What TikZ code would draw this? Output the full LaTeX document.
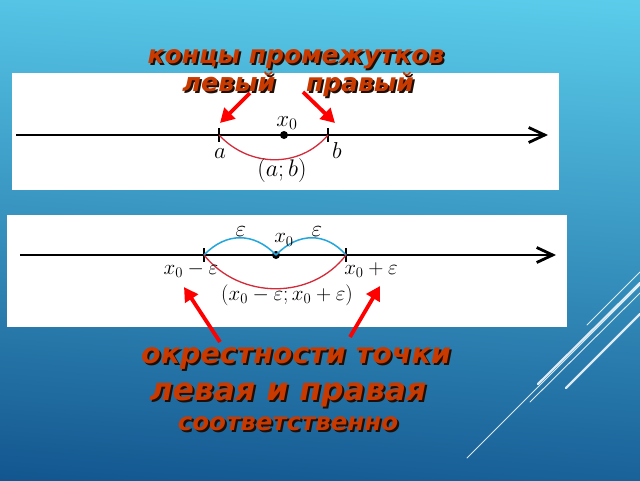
\RequirePackage{fix-cm}
\documentclass[tikz,border=0pt]{standalone}
\usepackage{fontspec}
\setmainfont{DejaVu Sans}
\usetikzlibrary{arrows.meta,shadings}
\definecolor{titlec}{HTML}{C93A00}
\definecolor{shadowc}{HTML}{1E0E06}
\definecolor{bgtop}{HTML}{5BCDEB}
\definecolor{bgmid}{HTML}{3190C2}
\definecolor{bgbot}{HTML}{13568F}
\definecolor{arcred}{HTML}{D42A3A}
\definecolor{arcblue}{HTML}{22A6DC}
\newcommand{\shd}[1]{\makebox[0pt][l]{\hspace*{2pt}\raisebox{-2pt}{\textcolor{shadowc}{#1}}}#1}
\tikzset{
  axisline/.style={line width=2.8pt,-{Straight Barb[length=16pt,width=15pt]}},
  tickl/.style={line width=2.4pt},
  dotn/.style={circle,fill=black,inner sep=0pt,minimum size=8pt},
  redarc/.style={arcred,line width=1.3pt},
  bluearc/.style={arcblue,line width=1.5pt},
  bigarr/.style={red,line width=3.8pt,-{Triangle[length=14pt,width=15pt]}},
  mlab/.style={inner sep=0pt,font=\fontsize{21}{24}\selectfont},
  ttl/.style={inner sep=0pt,anchor=base,text=titlec,font=\bfseries\itshape\fontsize{25}{28}\selectfont},
  deco/.style={white,opacity=0.85,line cap=round}
}
\begin{document}
\begin{tikzpicture}[x=1pt,y=-1pt]
\useasboundingbox (0,0) rectangle (640,480);
\shade[upper right=bgtop,upper left=bgtop!85!bgmid,lower left=bgbot,lower right=bgbot!80!bgmid] (0,0) rectangle (640,480);
% decorative lines
\draw[deco,line width=0.8pt] (467,458) -- (640,285);
\draw[deco,line width=0.9pt] (587,325) -- (640,272);
\draw[deco,line width=2.2pt] (538,384) -- (640,283);
\draw[deco,line width=0.9pt] (530,402) -- (640,293);
\draw[deco,line width=2.2pt] (566,388) -- (640,314);
% white panels
\fill[white] (12,73) rectangle (559,190);
\fill[white] (7,215) rectangle (567,327);
% ---------- diagram 1
\coordinate (s1) at (16,135);
\coordinate (e1) at (548,135);
\draw[axisline] (s1) -- (e1);
\coordinate (A) at (219,135);
\coordinate (B) at (328,135);
\draw[tickl] (219,128) -- (219,142);
\draw[tickl] (328,128) -- (328,142);
\node[dotn] (X1) at (284,135) {};
\draw[redarc] (A) .. controls (250,168) and (300,168) .. (B);
\node[mlab,font=\fontsize{23}{26}\selectfont] (lx1) at (287,123) {$x_0$};
\node[mlab,font=\fontsize{23}{26}\selectfont] (la) at (220,154) {$a$};
\node[mlab,font=\fontsize{23}{26}\selectfont] (lb) at (337,151) {$b$};
\node[mlab,font=\fontsize{24}{26}\selectfont] (lab) at (282,170) {$(a;b)$};
% ---------- diagram 2
\coordinate (s2) at (20,255);
\coordinate (e2) at (556,255);
\draw[axisline] (s2) -- (e2);
\coordinate (C) at (204,255);
\coordinate (D) at (346,255);
\draw[tickl] (204,248) -- (204,262);
\draw[tickl] (346,248) -- (346,262);
\node[dotn] (X2) at (276,255) {};
\draw[bluearc] (C) .. controls (226,232) and (254,232) .. (X2.center);
\draw[bluearc] (X2.center) .. controls (298,232) and (326,232) .. (D);
\draw[redarc] (C) .. controls (240,300) and (312,300) .. (D);
\node[mlab,font=\fontsize{23}{26}\selectfont] (le1) at (241,232) {$\varepsilon$};
\node[mlab,font=\fontsize{23}{26}\selectfont] (le2) at (317,232) {$\varepsilon$};
\node[mlab] (lx2) at (284,240) {$x_0$};
\node[mlab] (lxm) at (191,270) {$x_0-\varepsilon$};
\node[mlab] (lxp) at (371,270) {$x_0+\varepsilon$};
\node[mlab] (lint) at (287,295) {$(x_0-\varepsilon;x_0+\varepsilon)$};
% ---------- titles
\node[ttl] (t1) at (296,63) {\shd{концы промежутков}};
\node[ttl,font=\bfseries\itshape\fontsize{25.5}{28}\selectfont] (t2) at (229,91) {\shd{левый}};
\node[ttl] (t3) at (360,91) {\shd{правый}};
\node[ttl,font=\bfseries\itshape\fontsize{28.5}{30}\selectfont] (t4) at (296,363) {\shd{окрестности точки}};
\node[ttl,font=\bfseries\itshape\fontsize{31.5}{34}\selectfont] (t5) at (288,400) {\shd{левая и правая}};
\node[ttl,font=\bfseries\itshape\fontsize{24.5}{27}\selectfont] (t6) at (288,430) {\shd{соответственно}};
% ---------- red arrows
\coordinate (p1) at (250,93);
\coordinate (q1) at (220,123);
\coordinate (p2) at (303,92);
\coordinate (q2) at (335,123);
\coordinate (p3) at (220,342);
\coordinate (q3) at (184,287);
\coordinate (p4) at (350,337);
\coordinate (q4) at (380,286);
\draw[bigarr] (p1) -- (q1);
\draw[bigarr] (p2) -- (q2);
\draw[bigarr] (p3) -- (q3);
\draw[bigarr] (p4) -- (q4);
\end{tikzpicture}
\end{document}
